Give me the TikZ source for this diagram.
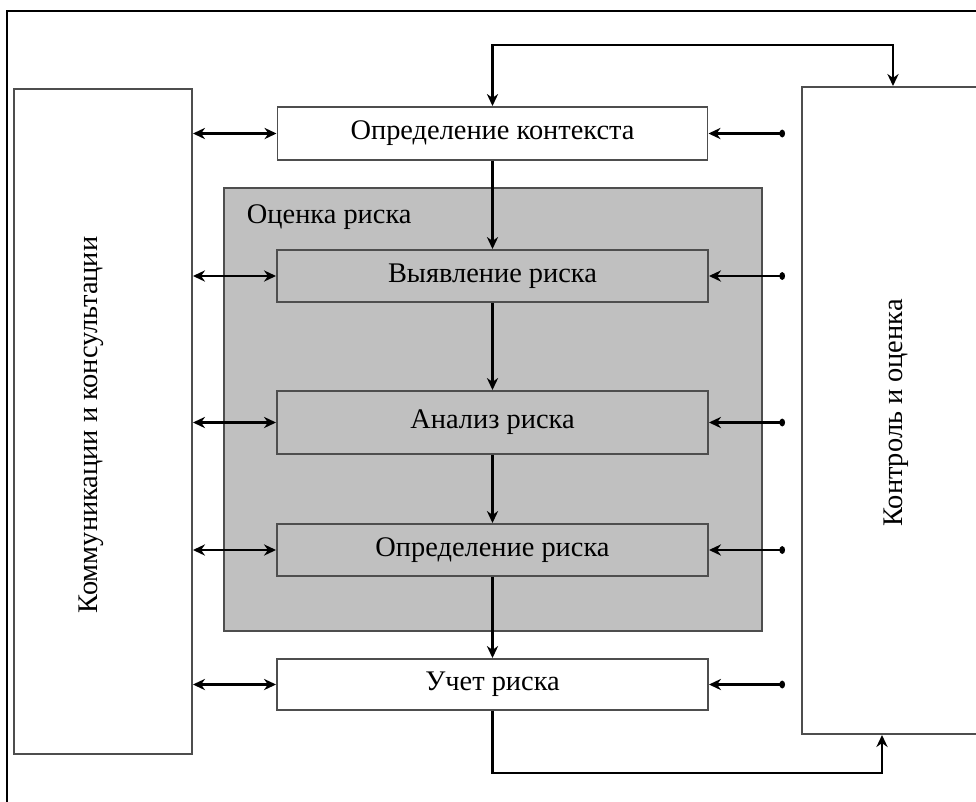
\documentclass[tikz,border=0pt]{standalone}
\usepackage{fontspec}
\setmainfont{Liberation Serif}
\usepackage{xcolor}
\usepackage{tikz}
\usetikzlibrary{arrows, shapes, positioning, arrows.meta, calc}
\definecolor{boxgray}{RGB}{192,192,192}
\definecolor{edgegray}{RGB}{78,78,78}
\tikzstyle{block} = [draw=edgegray, line width=1.4pt, rectangle, align=center]
\tikzstyle{arrow} = [line width=1.5pt, -{Stealth[length=3mm,width=2.8mm]}]
\tikzstyle{twoway} = [line width=1.5pt, {Stealth[length=3mm,width=2.8mm]}-{Stealth[length=3mm,width=2.8mm]}]
\tikzstyle{probe} = [line width=1.5pt, {Stealth[length=3mm,width=2.8mm]}-{Circle[length=1.4mm,width=1.9mm]}]

\begin{document}
\begin{tikzpicture}[x=0.25mm, y=-0.25mm, font=\fontsize{20.2}{24}\selectfont]
        \useasboundingbox (0,0) rectangle (976,801);
        \clip (0,0) rectangle (976,801);
        \fill[white] (0,0) rectangle (976,801);
        \draw[line width=1.6pt] (7,11) rectangle (990,815);

        % risk assessment area
        \node[block, fill=boxgray, minimum width=134.5mm, minimum height=110.75mm] (assess) at (493,409.5) {};
        \node[anchor=base west] (assesslbl) at (242,223) {Оценка риска};

        % side boxes
        \node[block, minimum width=44.5mm, minimum height=166.25mm] (comm) at (103,421.5) {};
        \node[rotate=90, anchor=base] (commlbl) at (97,425) {Коммуникации и консультации};
        \node[block, minimum width=45.5mm, minimum height=161.75mm] (ctrl) at (893,410.5) {};
        \node[rotate=90, anchor=base] (ctrllbl) at (902,413) {Контроль и оценка};

        % process steps
        \node[block, fill=white, minimum width=107.5mm, minimum height=13.25mm] (ctx) at (492.5,133.5) {Определение контекста};
        \node[block, fill=boxgray, minimum width=107.75mm, minimum height=13mm] (ident) at (492.5,276) {Выявление риска};
        \node[block, fill=boxgray, minimum width=107.75mm, minimum height=15.75mm] (analys) at (492.5,422.5) {Анализ риска};
        \node[block, fill=boxgray, minimum width=107.75mm, minimum height=13mm] (evalr) at (492.5,550) {Определение риска};
        \node[block, fill=white, minimum width=107.75mm, minimum height=12.75mm] (treat) at (492.5,684.5) {Учет риска};

        \coordinate (rdot) at (785,0);
        \coordinate (topbend) at (0,45);
        \coordinate (botbend) at (882,773);

        \draw[arrow] (ctx.south) -- (ident.north);
        \draw[arrow] (ident.south) -- (analys.north);
        \draw[arrow] (analys.south) -- (evalr.north);
        \draw[arrow] (evalr.south) -- (treat.north);

        \foreach \b in {ctx, ident, analys, evalr, treat} {
            \draw[twoway] (comm.east |- \b) -- (\b.west);
            \draw[probe] (\b.east) -- (\b.east -| rdot);
        }

        % feedback loops
        \draw[twoway] (ctx.north) -- (ctx.north |- topbend) -| (ctrl.north);
        \draw[arrow] (treat.south) |- (botbend) -- (botbend |- ctrl.south);
\end{tikzpicture}
\end{document}
